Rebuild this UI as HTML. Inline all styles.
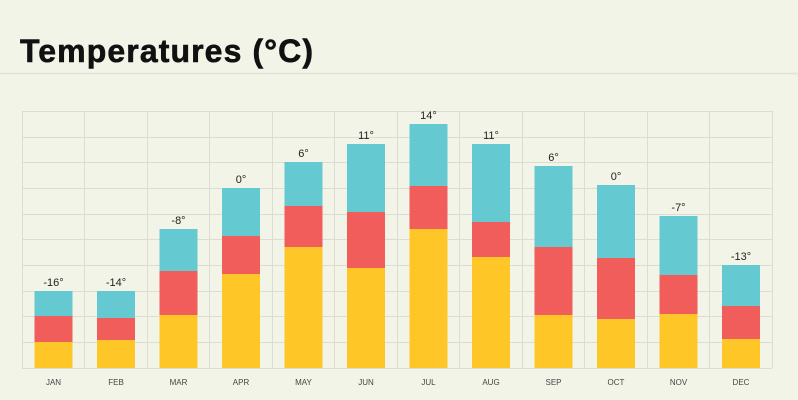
<!DOCTYPE html>
<html><head><style>
body{margin:0;background:#f3f4e8;}
svg{display:block}
</style></head><body>
<svg width="798" height="400" viewBox="0 0 798 400" xmlns="http://www.w3.org/2000/svg">
<rect width="798" height="400" fill="#f3f4e8"/>
<text x="20" y="62" font-family="Liberation Sans, sans-serif" font-weight="bold" font-size="32" letter-spacing="1.1" fill="#111" stroke="#111" stroke-width="0.6">Temperatures (°C)</text>
<line x1="0" y1="73.5" x2="798" y2="73.5" stroke="#e2e2d6" stroke-width="1.5"/>
<g stroke="#dcdcd0" stroke-width="1">
<line x1="22" y1="111.5" x2="772" y2="111.5"/><line x1="22" y1="137.5" x2="772" y2="137.5"/><line x1="22" y1="162.5" x2="772" y2="162.5"/><line x1="22" y1="188.5" x2="772" y2="188.5"/><line x1="22" y1="214.5" x2="772" y2="214.5"/><line x1="22" y1="239.5" x2="772" y2="239.5"/><line x1="22" y1="265.5" x2="772" y2="265.5"/><line x1="22" y1="291.5" x2="772" y2="291.5"/><line x1="22" y1="316.5" x2="772" y2="316.5"/><line x1="22" y1="342.5" x2="772" y2="342.5"/><line x1="22" y1="368.5" x2="772" y2="368.5"/>
<line x1="22.5" y1="111" x2="22.5" y2="368"/><line x1="84.5" y1="111" x2="84.5" y2="368"/><line x1="147.5" y1="111" x2="147.5" y2="368"/><line x1="209.5" y1="111" x2="209.5" y2="368"/><line x1="272.5" y1="111" x2="272.5" y2="368"/><line x1="334.5" y1="111" x2="334.5" y2="368"/><line x1="397.5" y1="111" x2="397.5" y2="368"/><line x1="459.5" y1="111" x2="459.5" y2="368"/><line x1="522.5" y1="111" x2="522.5" y2="368"/><line x1="584.5" y1="111" x2="584.5" y2="368"/><line x1="647.5" y1="111" x2="647.5" y2="368"/><line x1="709.5" y1="111" x2="709.5" y2="368"/><line x1="772.5" y1="111" x2="772.5" y2="368"/>
</g>
<g id="bars"></g>
<g font-family="Liberation Sans, sans-serif" font-size="11" fill="#222" text-anchor="middle" id="labels"></g>
<g font-family="Liberation Sans, sans-serif" font-size="8" fill="#444" text-anchor="middle" id="months"></g>
<script>
var d=[["JAN",291,316,342,"-16°"],["FEB",291,318,340,"-14°"],["MAR",229,271,315,"-8°"],["APR",188,236,274,"0°"],["MAY",162,206,247,"6°"],["JUN",144,212,268,"11°"],["JUL",124,186,229,"14°"],["AUG",144,222,257,"11°"],["SEP",166,247,315,"6°"],["OCT",185,258,319,"0°"],["NOV",216,275,314,"-7°"],["DEC",265,306,339,"-13°"]];
var ns="http://www.w3.org/2000/svg",b=document.getElementById("bars"),l=document.getElementById("labels"),m=document.getElementById("months");
function r(x,y,w,h,c){var e=document.createElementNS(ns,"rect");e.setAttribute("x",x);e.setAttribute("y",y);e.setAttribute("width",w);e.setAttribute("height",h);e.setAttribute("fill",c);b.appendChild(e);}
function t(g,x,y,s){var e=document.createElementNS(ns,"text");e.setAttribute("x",x);e.setAttribute("y",y);e.textContent=s;g.appendChild(e);}
d.forEach(function(v,i){var cx=22+62.5*i+31.5,x=cx-19;
r(x,v[1],38,v[2]-v[1],"#64c9d1");r(x,v[2],38,v[3]-v[2],"#f15d5b");r(x,v[3],38,368-v[3],"#fec627");
t(l,cx,v[1]-5,v[4]);t(m,cx,385,v[0]);});
</script>
</svg>
</body></html>
